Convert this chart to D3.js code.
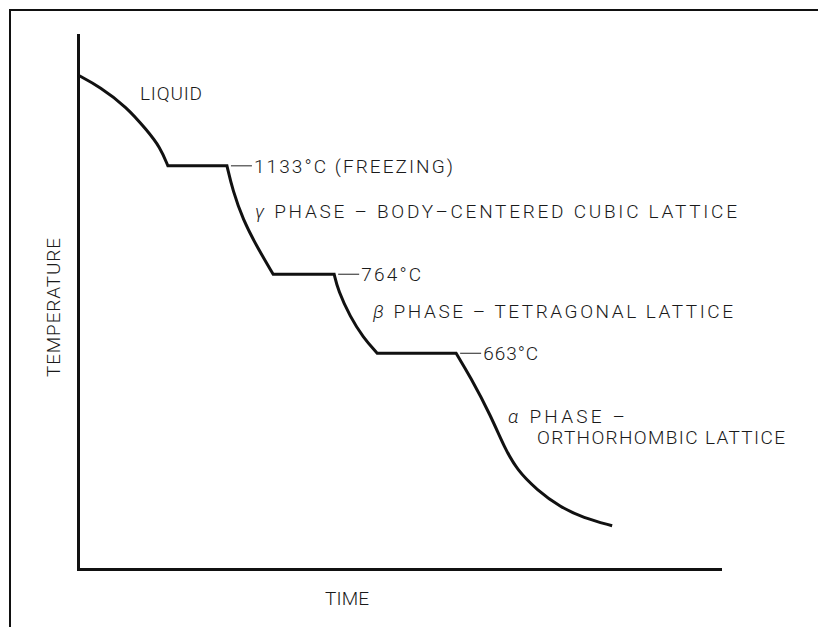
<!DOCTYPE html>
<html lang="en">
<head>
  <meta charset="utf-8">
  <script src="https://cdn.jsdelivr.net/npm/d3@7/dist/d3.min.js"></script>
  <style>
    body {
      margin: 0;
      background: #fff;
    }

    text {
      font-family: Roboto, "Liberation Sans", sans-serif;
      font-size: 19px;
      font-weight: 300;
      fill: #1a1a1a;
    }

    .axis path {
      stroke: #111;
      stroke-width: 3px;
      stroke-linecap: square;
    }

    .greek {
      font-style: italic;
    }
  </style>
</head>
<body>
<div id="chart"></div>
<script>
  // schematic cooling curve, time (0-100) vs temperature (0-100, arbitrary units)
  var liquidCooling = [[0, 92.5], [3.4, 90.3], [7.6, 86.5], [10.7, 82.2], [12.8, 79.0], [14.0, 75.5]];
  var gammaCooling = [[23.2, 75.5], [24.1, 70.9], [25.7, 65.4], [27.9, 60.3], [30.4, 55.2]];
  var betaCooling = [[39.9, 55.2], [40.5, 52.2], [42.4, 47.2], [44.4, 43.4], [46.6, 40.4]];
  var alphaCooling = [[58.9, 40.4], [61.1, 36.0], [64.3, 28.7], [66.4, 22.8], [68.4, 18.5],
    [71.5, 14.8], [75.1, 11.6], [78.7, 9.6], [83.2, 8.1]];

  // plateau labels (end of each arrest)
  var plateauLabels = ["1133°C  (FREEZING)", "764°C", "663°C"];
  var plateauEnds = [[23.2, 75.5], [39.9, 55.2], [58.9, 40.4]];

  var margin = {top: 35, right: 98, bottom: 58, left: 78},
      width = 818 - margin.left - margin.right,
      height = 627 - margin.top - margin.bottom;

  var svg = d3.select("#chart").append("svg")
      .attr("width", 818)
      .attr("height", 627);

  // outer frame (runs off the page on the right and bottom)
  svg.append("rect")
      .attr("x", 10)
      .attr("y", 10)
      .attr("width", 840)
      .attr("height", 660)
      .attr("fill", "none")
      .attr("stroke", "#111")
      .attr("stroke-width", 2);

  var g = svg.append("g")
      .attr("transform", "translate(" + margin.left + "," + margin.top + ")");

  var x = d3.scaleLinear().domain([0, 100]).range([0, width]);
  var y = d3.scaleLinear().domain([0, 100]).range([height, 0]);

  g.append("g")
      .attr("class", "axis")
      .attr("transform", "translate(0," + height + ")")
      .call(d3.axisBottom(x).ticks(0).tickSizeOuter(0));

  g.append("g")
      .attr("class", "axis")
      .call(d3.axisLeft(y).ticks(0).tickSizeOuter(0));

  var line = d3.line()
      .x(function(d) { return x(d[0]); })
      .y(function(d) { return y(d[1]); })
      .curve(d3.curveBasis);

  // each cooling stretch is curved, the arrests between them are straight
  var pathD = [liquidCooling, gammaCooling, betaCooling, alphaCooling]
      .map(function(s, i) {
        var d = line(s);
        return i === 0 ? d : d.replace(/^M/, "L");
      }).join("");

  g.append("path")
      .attr("d", pathD)
      .attr("fill", "none")
      .attr("stroke", "#111")
      .attr("stroke-width", 3)
      .attr("stroke-linejoin", "miter");

  // leader ticks + temperature labels
  var widths = [199, 60, 55];
  plateauEnds.forEach(function(p, i) {
    var px = x(p[0]), py = y(p[1]);
    g.append("line")
        .attr("x1", px + 4).attr("x2", px + 25)
        .attr("y1", py).attr("y2", py)
        .attr("stroke", "#222")
        .attr("stroke-width", 1);
    g.append("text")
        .attr("x", px + 27)
        .attr("y", py + 7)
        .attr("textLength", widths[i])
        .attr("lengthAdjust", "spacing")
        .text(plateauLabels[i]);
  });

  function phaseLabel(px, py, greek, rest, len) {
    var t = g.append("text")
        .attr("x", px - margin.left)
        .attr("y", py - margin.top)
        .attr("textLength", len)
        .attr("lengthAdjust", "spacing");
    if (greek) {
      t.append("tspan").attr("class", "greek").text(greek);
    }
    t.append("tspan").text(rest);
    return t;
  }

  phaseLabel(140, 100, null, "LIQUID", 62);
  phaseLabel(255, 218, "γ", "  PHASE  –  BODY–CENTERED  CUBIC  LATTICE", 482);
  phaseLabel(373, 318, "β", "  PHASE  –  TETRAGONAL  LATTICE", 360);
  phaseLabel(508, 423, "α", "  PHASE  –", 117);
  phaseLabel(537, 444, null, "ORTHORHOMBIC  LATTICE", 248);

  // axis titles
  g.append("text")
      .attr("x", 325 - margin.left)
      .attr("y", 605 - margin.top)
      .attr("textLength", 44)
      .attr("lengthAdjust", "spacing")
      .text("TIME");

  g.append("text")
      .attr("transform", "translate(" + (60 - margin.left) + "," + (377 - margin.top) + ") rotate(-90)")
      .attr("textLength", 139)
      .attr("lengthAdjust", "spacing")
      .text("TEMPERATURE");
</script>
</body>
</html>
